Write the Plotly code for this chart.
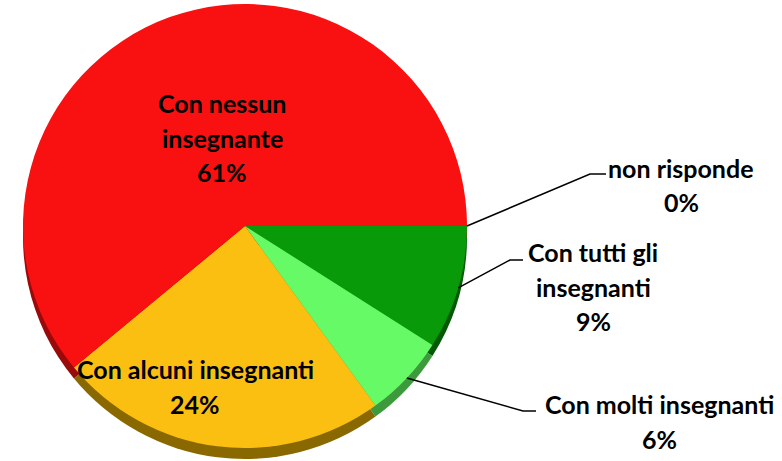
import math
import plotly.graph_objects as go

# Survey answers and their shares (%), listed clockwise from 3 o'clock
labels = [
    "non risponde",
    "Con tutti gli insegnanti",
    "Con molti insegnanti",
    "Con alcuni insegnanti",
    "Con nessun insegnante",
]
values = [0, 9, 6, 24, 61]

# How each label is split over lines of text
label_lines = [
    ["non risponde"],
    ["Con tutti gli", "insegnanti"],
    ["Con molti insegnanti"],
    ["Con alcuni insegnanti"],
    ["Con nessun", "insegnante"],
]

top_colors = ["#C00000", "#089A08", "#66FB66", "#FBBF12", "#F91010"]
side_colors = ["#7A0000", "#045A04", "#3C9A3C", "#8A6800", "#9A0A0A"]

W, H = 782, 461
cx, cy, r, depth = 245, 226, 222, 11  # pie centre / radius / thickness in px

# label block placement (px): centre x, first line y, optional leader elbow + end
label_pos = {
    "Con nessun insegnante": (222, 103, None),
    "Con alcuni insegnanti": (195, 369, None),
    "Con molti insegnanti": (659, 404, ((523, 411), (536, 411))),
    "Con tutti gli insegnanti": (593, 252, ((510, 260), (523, 260))),
    "non risponde": (681, 168, ((590, 174), (606, 174))),
}
line_step = 34.5
FONT = "Lato"
FONT_SIZE = 25


def px_x(x):
    return x / W


def px_y(y):
    return 1 - y / H


def domain(offset):
    return dict(
        x=[px_x(cx - r), px_x(cx + r)],
        y=[px_y(cy + offset + r), px_y(cy + offset - r)],
    )


fig = go.Figure()

common = dict(
    labels=labels,
    values=values,
    sort=False,
    direction="clockwise",
    rotation=90,
    textinfo="none",
    hoverinfo="label+percent",
    showlegend=False,
)

# darker copy slightly lower gives the pie its thickness
fig.add_trace(go.Pie(domain=domain(depth), marker=dict(colors=side_colors, line=dict(width=0)), **common))
fig.add_trace(go.Pie(domain=domain(0), marker=dict(colors=top_colors, line=dict(width=0)), **common))

annotations = []
shapes = []
total = sum(values)
cum = 0
for lab, v, lines in zip(labels, values, label_lines):
    # slices run clockwise from 3 o'clock
    mid = -(cum + v / 2) / total * 2 * math.pi
    cum += v
    x0, y0, leader = label_pos[lab]
    text_lines = lines + [f"{v}%"]
    for k, t in enumerate(text_lines):
        annotations.append(dict(
            x=px_x(x0), y=px_y(y0 + k * line_step), xref="paper", yref="paper",
            text=f"<b>{t}</b>", showarrow=False, xanchor="center", yanchor="middle",
            font=dict(family=FONT, size=FONT_SIZE, color="black"),
        ))
    if leader:
        ex = cx + r * math.cos(mid)
        ey = cy - r * math.sin(mid)
        (bx, by), (hx, hy) = leader
        path = f"M {px_x(ex)},{px_y(ey)} L {px_x(bx)},{px_y(by)} L {px_x(hx)},{px_y(hy)}"
        shapes.append(dict(type="path", path=path, xref="paper", yref="paper",
                           line=dict(color="black", width=1.5)))

fig.update_layout(
    width=W, height=H,
    margin=dict(l=0, r=0, t=0, b=0),
    paper_bgcolor="white",
    plot_bgcolor="white",
    annotations=annotations,
    shapes=shapes,
)

fig.write_html("out.html")
